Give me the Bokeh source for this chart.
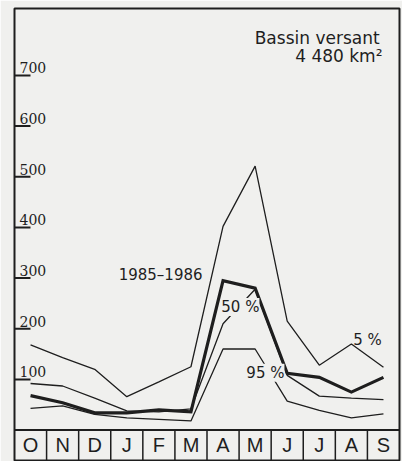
from bokeh.plotting import figure
from bokeh.models import Range1d, Span, Label
from bokeh.core.properties import value
from bokeh.embed import file_html
from bokeh.resources import INLINE

months = ["O", "N", "D", "J", "F", "M", "A", "M", "J", "J", "A", "S"]
y_ticks = [100, 200, 300, 400, 500, 600, 700]
q05 = [168, 143, 120, 66, 95, 125, 402, 521, 215, 128, 170, 124]
q50 = [92, 87, 63, 38, 36, 42, 210, 278, 108, 67, 63, 60]
q95 = [43, 48, 31, 24, 21, 18, 160, 160, 57, 39, 24, 32]
y1985 = [68, 54, 34, 34, 40, 36, 295, 280, 112, 104, 75, 104]

BG = "#f0f0ee"
INK = "#1e1e1e"

y_start, y_end = -60, 832
xs = [i + 0.5 for i in range(len(months))]

p = figure(width=402, height=461, output_backend="svg", toolbar_location=None,
           x_range=Range1d(0, len(months)), y_range=Range1d(y_start, y_end),
           x_axis_location=None, y_axis_location=None,
           min_border_left=14, min_border_right=3, min_border_top=8, min_border_bottom=1)
p.background_fill_color = BG
p.border_fill_color = BG
p.outline_line_color = INK
p.outline_line_width = 2
p.xgrid.visible = False
p.ygrid.visible = False

# y ticks drawn inward from the left frame, labels above each tick
p.ray(x=[0] * len(y_ticks), y=y_ticks, length=16, length_units="screen", angle=0,
      line_color=INK, line_width=2)
p.text(x=[0] * len(y_ticks), y=y_ticks, text=[str(t) for t in y_ticks],
       x_offset=5, y_offset=-2, text_baseline="bottom", text_align="left",
       text_font=value("DejaVu Serif"), text_font_size="14px", text_color=INK)

# month strip
p.add_layout(Span(location=0, dimension="width", line_color=INK, line_width=2))
bounds = list(range(1, len(months)))
p.segment(x0=bounds, x1=bounds, y0=[y_start] * len(bounds), y1=[0] * len(bounds),
          line_color=INK, line_width=1.5)
p.text(x=xs, y=[y_start / 2] * len(months), text=months,
       text_align="center", text_baseline="middle",
       text_font=value("Liberation Sans"), text_font_size="20px", text_color=INK)

# series
for ser in (q05, q50, q95):
    p.line(xs, ser, line_color=INK, line_width=1.3)
p.line(xs, y1985, line_color=INK, line_width=3.2, line_join="miter")

def lab(x, y, t, align="center", size="15px", bg=None):
    kw = dict(x=x, y=y, text=t, text_align=align, text_baseline="middle",
              text_font="DejaVu Sans", text_font_size=size, text_color=INK)
    if bg:
        kw.update(background_fill_color=bg, background_fill_alpha=1.0)
    p.add_layout(Label(**kw))

lab(5.86, 306, "1985–1986", align="right")
lab(7.04, 243, "50 %", bg=BG)
lab(7.82, 113, "95 %", bg=BG)
lab(11.0, 177, "5 %")
lab(11.38, 773, "Bassin versant", align="right", size="17px")
lab(11.47, 739, "4 480 km²", align="right", size="17px")

open("out.html", "w").write(file_html(p, INLINE))
